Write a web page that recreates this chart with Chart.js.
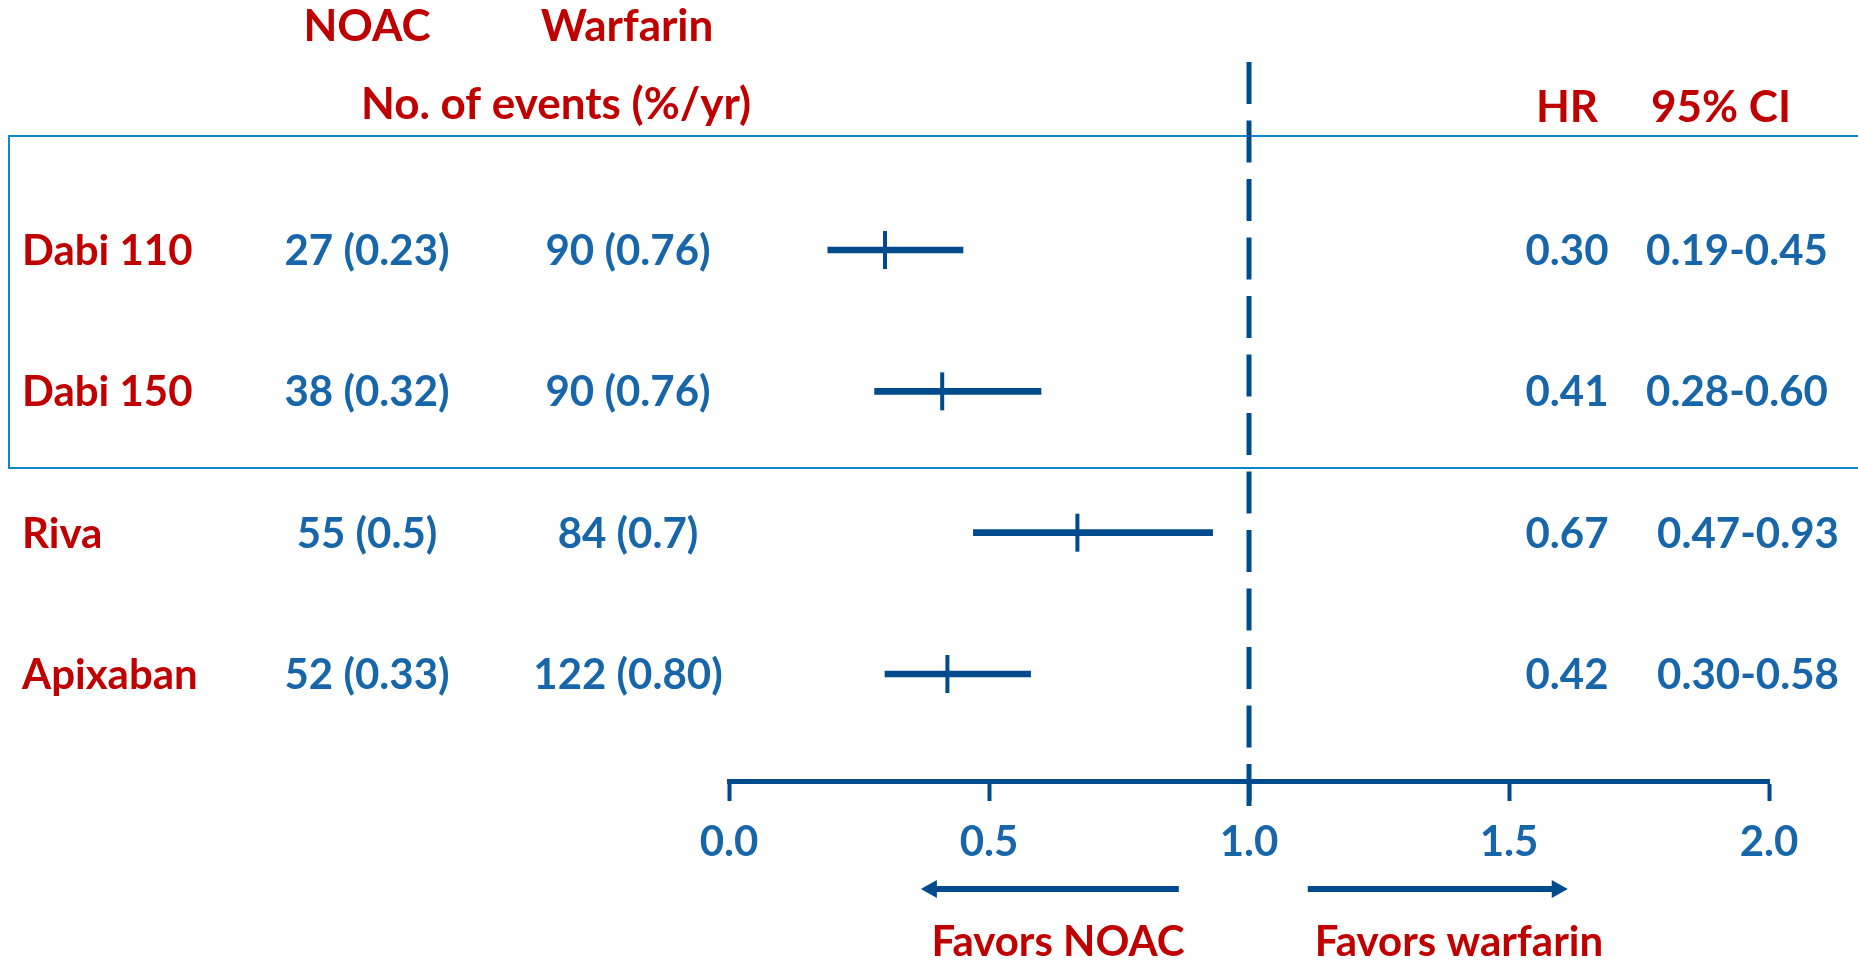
<!DOCTYPE html>
<html>
<head>
<meta charset="utf-8">
<script src="https://cdn.jsdelivr.net/npm/chart.js@4/dist/chart.umd.min.js"></script>
<style>
  html, body { margin: 0; padding: 0; background: #fff; }
  #wrap { width: 1858px; height: 960px; position: relative; }
</style>
</head>
<body>
<div id="wrap"><canvas id="forest"></canvas></div>
<script>
// donnees
const etudes = ['Dabi 110', 'Dabi 150', 'Riva', 'Apixaban'];
const evtNoac = ['27 (0.23)', '38 (0.32)', '55 (0.5)', '52 (0.33)'];
const evtWarf = ['90 (0.76)', '90 (0.76)', '84 (0.7)', '122 (0.80)'];
const hr = [0.30, 0.41, 0.67, 0.42];
const ciLow = [0.19, 0.28, 0.47, 0.30];
const ciHigh = [0.45, 0.60, 0.93, 0.58];
const xTicks = [0.0, 0.5, 1.0, 1.5, 2.0];

const ROUGE = '#c00000';
const BLEU_TXT = '#1766a9';
const BLEU = '#004b8d';
const POLICE = 'Lato, "Open Sans", sans-serif';

function texte(ctx, str, x, yCentre, align, couleur) {
  ctx.fillStyle = couleur;
  ctx.textAlign = align;
  ctx.textBaseline = 'alphabetic';
  ctx.fillText(str, x, yCentre + 15);
}

const decor = {
  id: 'decor',
  beforeDatasetsDraw(chart) {
    const ctx = chart.ctx;
    const xs = chart.scales.x;
    ctx.save();
    // cadre bleu autour des lignes dabigatran
    ctx.strokeStyle = '#0d87d0';
    ctx.lineWidth = 2;
    ctx.beginPath();
    ctx.moveTo(1860, 136);
    ctx.lineTo(9, 136);
    ctx.lineTo(9, 468);
    ctx.lineTo(1860, 468);
    ctx.stroke();
    // ligne pointillee HR = 1
    const x1 = Math.round(xs.getPixelForValue(1));
    ctx.strokeStyle = BLEU;
    ctx.lineWidth = 5;
    ctx.setLineDash([42, 16.5]);
    ctx.beginPath();
    ctx.moveTo(x1, 62);
    ctx.lineTo(x1, 807);
    ctx.stroke();
    ctx.setLineDash([]);
    ctx.restore();
  },
  afterDraw(chart) {
    const ctx = chart.ctx;
    const ys = chart.scales.y;
    const xs = chart.scales.x;
    ctx.save();
    // en-tetes
    ctx.font = 'bold 44px ' + POLICE;
    texte(ctx, 'NOAC', 367, 26, 'center', ROUGE);
    texte(ctx, 'Warfarin', 627, 26, 'center', ROUGE);
    texte(ctx, 'No. of events (%/yr)', 556, 104, 'center', ROUGE);
    texte(ctx, 'HR', 1567, 107, 'center', ROUGE);
    texte(ctx, '95% CI', 1721, 107, 'center', ROUGE);
    // lignes du tableau
    ctx.font = 'bold 42px ' + POLICE;
    etudes.forEach((nom, i) => {
      const y = ys.getPixelForValue(i);
      texte(ctx, nom, 22, y, 'left', ROUGE);
      texte(ctx, evtNoac[i], 367, y, 'center', BLEU_TXT);
      texte(ctx, evtWarf[i], 628, y, 'center', BLEU_TXT);
      texte(ctx, hr[i].toFixed(2), 1567, y, 'center', BLEU_TXT);
      // hors du cadre les IC sont un peu decales a droite
      texte(ctx, ciLow[i].toFixed(2) + '-' + ciHigh[i].toFixed(2), i < 2 ? 1737 : 1748, y, 'center', BLEU_TXT);
    });
    // fleches
    const yF = 889;
    const xa = xs.getPixelForValue(0.865), xb = xs.getPixelForValue(0.369);
    const xc = xs.getPixelForValue(1.113), xd = xs.getPixelForValue(1.613);
    ctx.fillStyle = BLEU;
    ctx.fillRect(xb + 14, yF - 3, xa - xb - 14, 6);
    ctx.beginPath();
    ctx.moveTo(xb, yF); ctx.lineTo(xb + 16, yF - 9); ctx.lineTo(xb + 16, yF + 9); ctx.closePath();
    ctx.fill();
    ctx.fillRect(xc, yF - 3, xd - xc - 14, 6);
    ctx.beginPath();
    ctx.moveTo(xd, yF); ctx.lineTo(xd - 16, yF - 9); ctx.lineTo(xd - 16, yF + 9); ctx.closePath();
    ctx.fill();
    texte(ctx, 'Favors NOAC', 1058, 941, 'center', ROUGE);
    texte(ctx, 'Favors warfarin', 1459, 941, 'center', ROUGE);
    ctx.restore();
  }
};

function dessiner() {
  new Chart(document.getElementById('forest'), {
    type: 'bar',
    data: {
      datasets: [{
        type: 'bar',
        indexAxis: 'y',
        data: etudes.map((e, i) => ({ y: i, x: [ciLow[i], ciHigh[i]] })),
        backgroundColor: BLEU,
        borderWidth: 0,
        barThickness: 6
      }, {
        type: 'scatter',
        data: hr.map((v, i) => ({ x: v, y: i })),
        pointStyle: 'line',
        rotation: 90,
        radius: 19,
        hoverRadius: 19,
        borderColor: BLEU,
        borderWidth: 4
      }]
    },
    options: {
      responsive: true,
      maintainAspectRatio: false,
      animation: false,
      events: [],
      layout: { autoPadding: false, padding: { left: 729, right: 89, top: 0, bottom: 0 } },
      plugins: { legend: { display: false }, tooltip: { enabled: false } },
      scales: {
        x: {
          type: 'linear',
          min: 0,
          max: 2,
          offset: false,
          afterBuildTicks(scale) { scale.ticks = xTicks.map(v => ({ value: v })); },
          afterFit(scale) { scale.height = 179; },
          border: { display: true, color: BLEU, width: 5 },
          grid: { offset: false, drawOnChartArea: false, drawTicks: true, tickLength: 20, tickWidth: 4, tickColor: BLEU },
          ticks: {
            maxRotation: 0,
            autoSkip: false,
            padding: 16,
            color: BLEU_TXT,
            font: { family: POLICE, weight: 'bold', size: 42 },
            callback: v => Number(v).toFixed(1)
          }
        },
        y: {
          type: 'linear',
          display: false,
          offset: false,
          reverse: true,
          min: -1.769,
          max: 3.757
        }
      }
    },
    plugins: [decor]
  });
}

if (document.fonts && document.fonts.load) {
  document.fonts.load('bold 42px Lato').then(dessiner, dessiner);
} else {
  dessiner();
}
</script>
</body>
</html>
